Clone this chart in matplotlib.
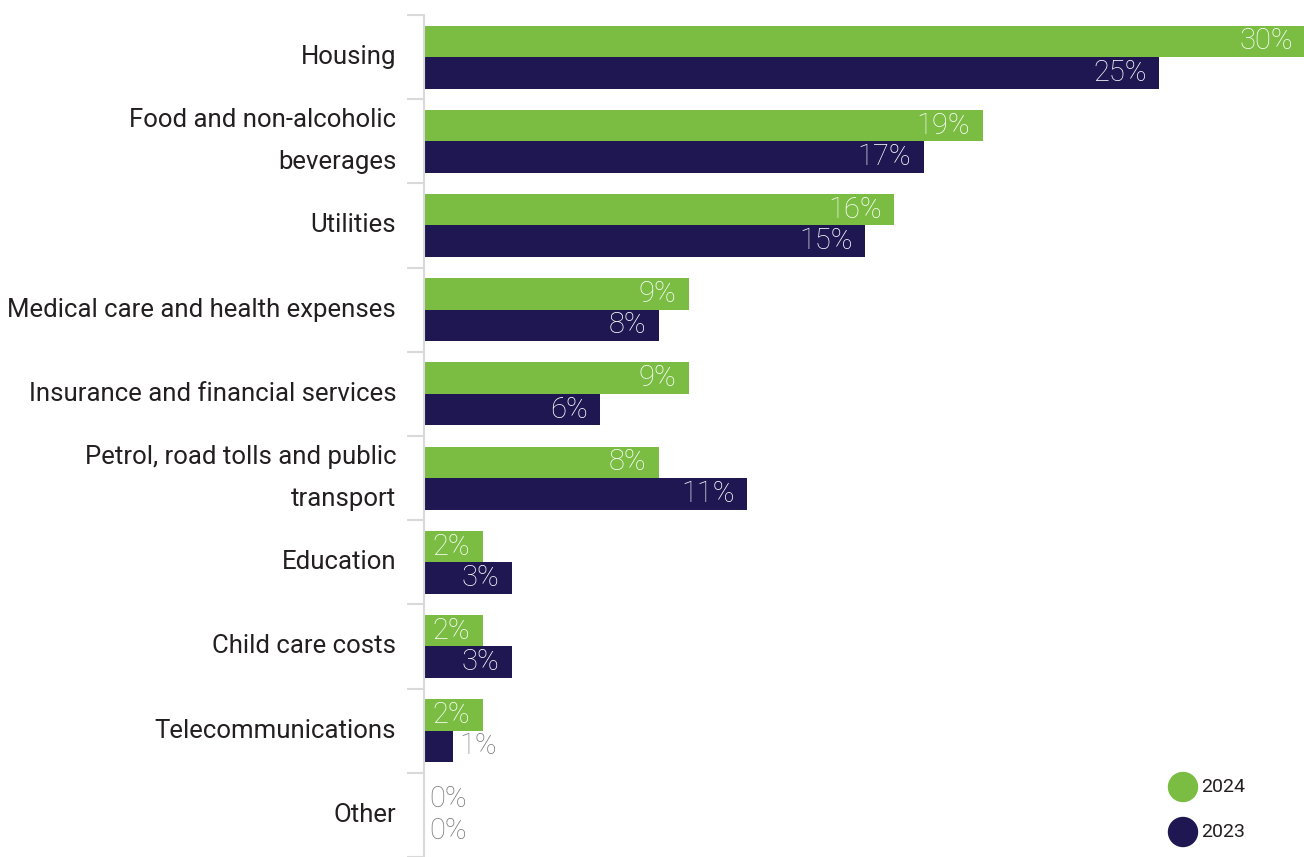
import matplotlib.pyplot as plt
from matplotlib.patches import Ellipse
import numpy as np

# share of household spending by category
categories = ["Housing", "Food and non-alcoholic\nbeverages", "Utilities",
              "Medical care and health expenses", "Insurance and financial services",
              "Petrol, road tolls and public\ntransport", "Education",
              "Child care costs", "Telecommunications", "Other"]
values_2024 = [30, 19, 16, 9, 9, 8, 2, 2, 2, 0]
values_2023 = [25, 17, 15, 8, 6, 11, 3, 3, 1, 0]

green = "#7abd42"
navy = "#1f1752"
grid_grey = "#d9d9d9"

plt.rcParams['font.family'] = ['Roboto', 'DejaVu Sans']

W, H = 1304, 857
fig = plt.figure(figsize=(W / 100, H / 100), dpi=100)
ax = fig.add_axes([424 / W, 0, 880 / W, 1 - 15 / H])

y = np.arange(len(categories))
h = 0.375
bars24 = ax.barh(y - h / 2, values_2024, height=h, color=green)
bars23 = ax.barh(y + h / 2, values_2023, height=h, color=navy)

ax.set_xlim(0, 29.93)
ax.set_ylim(len(categories) - 0.5, -0.5)


def add_labels(bars, vals):
    for b, v in zip(bars, vals):
        cy = b.get_y() + b.get_height() / 2
        if v >= 1.5:
            # fits inside the bar
            ax.annotate(f"{v}%", (v, cy), xytext=(-9, 0), textcoords="offset points",
                        ha="right", va="center", color="white", fontsize=21,
                        fontweight="light", annotation_clip=False)
        else:
            ax.annotate(f"{v}%", (v, cy), xytext=(4, 0), textcoords="offset points",
                        ha="left", va="center", color="#7a7a7a", fontsize=21,
                        fontweight="light", annotation_clip=False)


add_labels(bars24, values_2024)
add_labels(bars23, values_2023)

# axis styling
for side in ["top", "right", "bottom"]:
    ax.spines[side].set_visible(False)
ax.spines["left"].set_color(grid_grey)
ax.spines["left"].set_linewidth(1.5)
ax.set_xticks([])
ax.set_yticks(y)
ax.set_yticklabels(categories, fontsize=18.5, color="#231f20")
for lbl in ax.get_yticklabels():
    lbl.set_linespacing(1.95)
    lbl.set_verticalalignment("center")
ax.set_yticks(np.arange(len(categories) + 1) - 0.5, minor=True)
ax.tick_params(axis="y", which="major", length=0, pad=20)
ax.tick_params(axis="y", which="minor", length=12, width=1.5, color=grid_grey)

# legend drawn as dots in figure coordinates
for yy, col, txt in [(787, green, "2024"), (832, navy, "2023")]:
    fig.patches.append(Ellipse((1183 / W, 1 - yy / H), 29 / W, 29 / H,
                               transform=fig.transFigure, color=col))
    fig.text(1201 / W, 1 - yy / H, txt, fontsize=14, color="#231f20",
             va="center", ha="left")

fig.savefig("out.png", dpi=100)
